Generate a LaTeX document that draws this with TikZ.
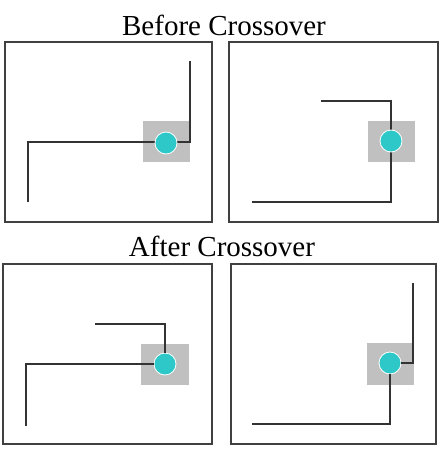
\documentclass[tikz,border=0pt]{standalone}
\usepackage{fontspec}
\setmainfont{Liberation Serif}
\definecolor{turq}{RGB}{46,200,200}
\definecolor{boxgray}{RGB}{192,192,192}
\begin{document}
\begin{tikzpicture}[x=1pt,y=-1pt,
  panel/.style={draw=black!75,line width=1.2pt},
  graybox/.style={fill=boxgray,draw=none,inner sep=0pt},
  dot/.style={circle,fill=turq,draw=white,line width=0.8pt,minimum size=22pt,inner sep=0pt},
  wire/.style={draw=black!80,line width=1.3pt},
  title/.style={font=\fontsize{29}{34}\selectfont,inner sep=0pt,anchor=base}]
\useasboundingbox (0,0) rectangle (442,450);
% titles
\node[title] (t1) at (224,35) {Before Crossover};
\node[title] (t2) at (222,256) {After Crossover};
% panel 1
\draw[panel] (5,42) rectangle (212,222);
\node[graybox,minimum width=47pt,minimum height=41pt] (g1) at (166.5,141.5) {};
\coordinate (a1) at (28,202);
\coordinate (a2) at (28,142);
\coordinate (a3) at (190,142);
\coordinate (a4) at (190,61);
\draw[wire] (a1) -- (a2) -- (a3) -- (a4);
\node[dot] (c1) at (166,143) {};
% panel 2
\draw[panel] (229,42) rectangle (438,222);
\node[graybox,minimum width=47pt,minimum height=41pt] (g2) at (391.5,141.5) {};
\coordinate (b1) at (321,101);
\coordinate (b2) at (391,101);
\coordinate (b3) at (391,202);
\coordinate (b4) at (252,202);
\draw[wire] (b1) -- (b2) -- (b3) -- (b4);
\node[dot] (c2) at (391,141) {};
% panel 3
\draw[panel] (3,264) rectangle (212,444);
\node[graybox,minimum width=48pt,minimum height=41pt] (g3) at (165,364.5) {};
\coordinate (d1) at (95,324);
\coordinate (d2) at (165,324);
\coordinate (d3) at (26,426);
\coordinate (d4) at (26,364);
\node[dot] (c3) at (165,364) {};
\draw[wire] (d1) -- (d2) -- (c3.north);
\draw[wire] (d3) -- (d4) -- (c3.west);
% panel 4
\draw[panel] (231,264) rectangle (436,444);
\node[graybox,minimum width=47pt,minimum height=42pt] (g4) at (390.5,364) {};
\coordinate (e1) at (413,363);
\coordinate (e2) at (413,283);
\coordinate (e3) at (390,424);
\coordinate (e4) at (252,424);
\node[dot] (c4) at (390,363) {};
\draw[wire] (c4.east) -- (e1) -- (e2);
\draw[wire] (c4.south) -- (e3) -- (e4);
\end{tikzpicture}
\end{document}
